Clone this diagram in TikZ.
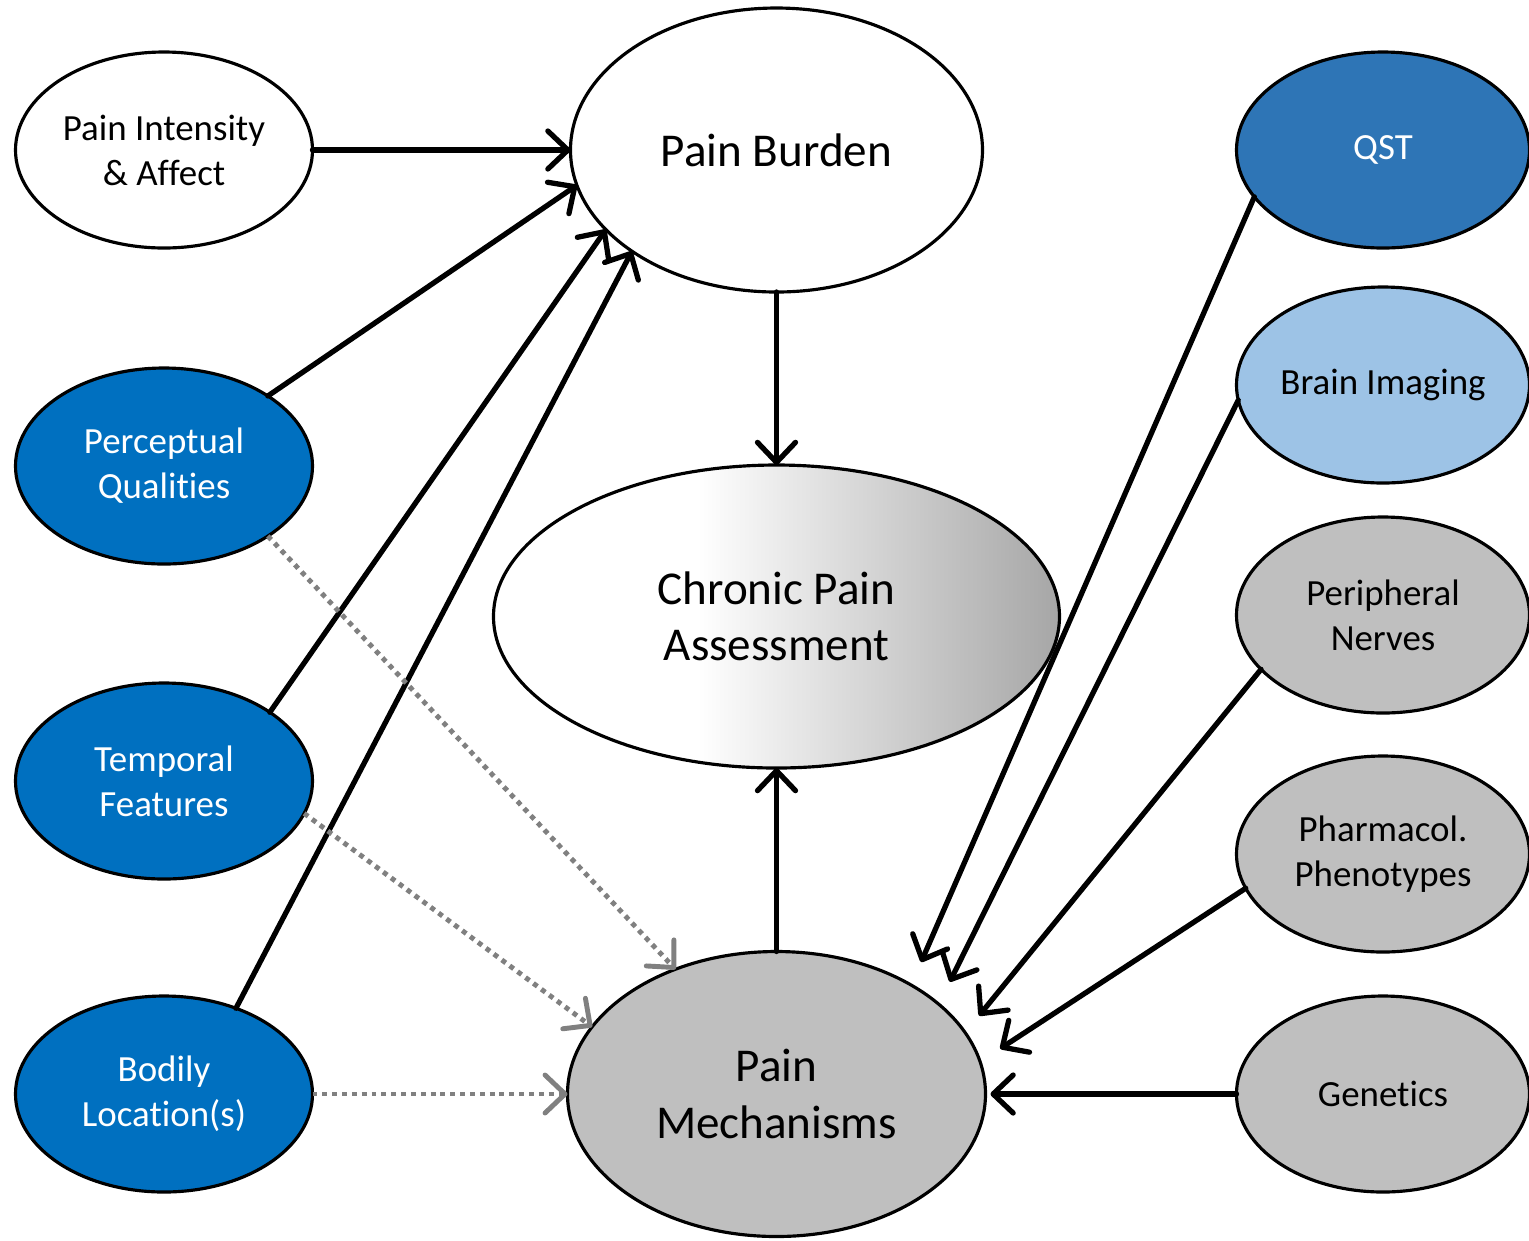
\documentclass[tikz,border=0pt]{standalone}
\usepackage{fontspec}
\setmainfont{Carlito}[Ligatures=NoCommon]
\usetikzlibrary{arrows.meta,positioning,shapes.geometric}
\definecolor{Deep}{HTML}{0070C0}
\definecolor{Mid}{HTML}{2E75B6}
\definecolor{Sky}{HTML}{9DC3E6}
\definecolor{Stone}{HTML}{BFBFBF}
\definecolor{Shade}{HTML}{A6A6A6}
\definecolor{Dots}{HTML}{808080}
\pgfdeclarehorizontalshading{cpafade}{100bp}{color(0bp)=(white); color(43bp)=(white); color(75bp)=(Shade); color(100bp)=(Shade)}
\tikzset{
  arr/.style={-{Straight Barb[round,length=2mm,width=3.8mm]},line width=1.5pt,line cap=round,draw=black},
  dotarr/.style={-{Straight Barb[round,length=2mm,width=3.8mm]},line width=1.4pt,dash pattern=on 1.4pt off 1.4pt,draw=Dots},
  ell/.style={ellipse,draw=black,line width=0.9pt,inner sep=0pt,outer sep=0pt,align=center},
  smallell/.style={ell,minimum width=2.97cm,minimum height=1.96cm,font=\fontsize{10.5}{12.8}\selectfont},
  sideell/.style={ell,minimum width=2.93cm,minimum height=1.96cm,font=\fontsize{10.5}{12.8}\selectfont},
  bigell/.style={ell,font=\fontsize{13.4}{16}\selectfont},
  plainell/.style={smallell,fill=white},
  blueell/.style={smallell,fill=Deep,text=white},
  qstell/.style={sideell,fill=Mid,text=white},
  skyell/.style={sideell,fill=Sky},
  grayell/.style={sideell,fill=Stone}
}
\begin{document}
\begin{tikzpicture}
  \useasboundingbox (0,0) rectangle (15.29,-12.40);
  % left column
  \node[plainell] (pint) at (1.64,-1.50) {Pain Intensity\\\& Affect};
  \node[blueell,below=1.2cm of pint] (perc) {Perceptual\\Qualities};
  \node[blueell,below=1.19cm of perc] (temp) {Temporal\\Features};
  \node[blueell,below=1.17cm of temp] (body) {Bodily\\Location(s)};
  % middle column
  \node[bigell,fill=white,right=2.58cm of pint,minimum width=4.12cm,minimum height=2.84cm] (burden) {Pain Burden};
  \node[bigell,shading=cpafade,below=1.73cm of burden,minimum width=5.66cm,minimum height=3.03cm] (cpa) {Chronic Pain\\Assessment};
  \node[bigell,fill=Stone,right=2.55cm of body,minimum width=4.18cm,minimum height=2.85cm] (pm) {Pain\\Mechanisms};
  % right column
  \node[qstell,right=2.54cm of burden] (qst) {QST};
  \node[skyell,below=0.39cm of qst] (brain) {Brain Imaging};
  \node[grayell,below=0.34cm of brain] (nerve) {Peripheral\\Nerves};
  \node[grayell,below=0.43cm of nerve] (pharm) {Pharmacol.\\Phenotypes};
  \node[grayell,right=2.51cm of pm] (gene) {Genetics};
  % burden side
  \draw[arr] (pint) -- (burden);
  \draw[arr] (perc.34) -- (burden.190);
  \draw[arr] (temp.33) -- (burden.205);
  \draw[arr] (body.50) -- (burden.215);
  \draw[arr] (burden) -- (cpa);
  \draw[arr] (pm) -- (cpa);
  % mechanisms side
  \draw[dotarr] (perc.-34) -- (pm.129);
  \draw[dotarr] (temp.-13) -- (pm.160);
  \draw[dotarr] (body) -- (pm);
  \draw[arr,shorten >=2.5mm] (qst.200) -- (pm.39);
  \draw[arr,shorten >=2.5mm] (brain.186) -- (pm.29);
  \draw[arr,shorten >=2.2mm] (nerve.204) -- (pm.18);
  \draw[arr,shorten >=2.4mm] (pharm.194) -- (pm.9);
  \draw[arr,shorten >=0.5mm] (gene) -- (pm);
\end{tikzpicture}
\end{document}
